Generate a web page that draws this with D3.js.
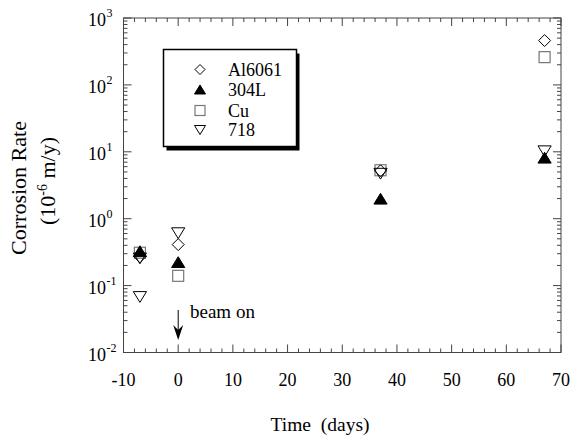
<!DOCTYPE html>
<html><head><meta charset="utf-8">
<script src="https://cdn.jsdelivr.net/npm/d3@7"></script>
<style>body{margin:0;background:#fff}</style>
</head><body><svg id="c" width="581" height="437" font-family="Liberation Serif, Times New Roman, DejaVu Serif, serif"></svg>
<script>
const daysAl = [-7, 0, 37, 67];
const al6061 = [0.27, 0.41, 5.2, 460];
const days304 = [-7, 0, 37, 67];
const s304L = [0.32, 0.22, 1.95, 8.0];
const daysCu = [-7, 0, 37, 67];
const cu = [0.31, 0.14, 5.3, 260];
const days718 = [-7, -7, 0, 37, 67];
const i718 = [0.26, 0.069, 0.62, 4.8, 10.4];
const xTicks = [-10, 0, 10, 20, 30, 40, 50, 60, 70];
const yTicks = [0.01, 0.1, 1, 10, 100, 1000];
const yExp = ["-2", "-1", "0", "1", "2", "3"];
const legendNames = ["Al6061", "304L", "Cu", "718"];

const FONT = "'Liberation Serif', 'Times New Roman', 'DejaVu Serif', serif";
const svg = d3.select("#c");
const L = 123.5, R = 561, T = 18, B = 352.5;
const x = d3.scaleLinear().domain([-10, 70]).range([L, R]);
const y = d3.scaleLog().domain([0.01, 1000]).range([B, T]);
const axCol = "#444";
function txt(sel) { return sel.append("text").attr("font-family", FONT).style("font-family", FONT).attr("fill", "#000"); }

svg.append("rect").attr("x", L).attr("y", T).attr("width", R - L).attr("height", B - T)
  .attr("fill", "none").attr("stroke", axCol).attr("stroke-width", 1);

d3.range(-10, 70.1, 2).forEach(v => {
  const len = (v % 10 === 0) ? 8 : 4;
  const px = x(v);
  svg.append("line").attr("x1", px).attr("x2", px).attr("y1", B).attr("y2", B - len).attr("stroke", axCol);
  svg.append("line").attr("x1", px).attr("x2", px).attr("y1", T).attr("y2", T + len).attr("stroke", axCol);
});
for (let e = -2; e < 3; e++) {
  for (let m = 2; m <= 9; m++) {
    const py = y(m * Math.pow(10, e));
    svg.append("line").attr("x1", L).attr("x2", L + 4).attr("y1", py).attr("y2", py).attr("stroke", axCol);
    svg.append("line").attr("x1", R).attr("x2", R - 4).attr("y1", py).attr("y2", py).attr("stroke", axCol);
  }
}
yTicks.forEach(v => {
  const py = y(v);
  svg.append("line").attr("x1", L).attr("x2", L + 8).attr("y1", py).attr("y2", py).attr("stroke", axCol);
  svg.append("line").attr("x1", R).attr("x2", R - 8).attr("y1", py).attr("y2", py).attr("stroke", axCol);
});

xTicks.forEach(v => {
  txt(svg).attr("x", x(v)).attr("y", B + 33).attr("text-anchor", "middle").attr("font-size", 18).text(v);
});
yTicks.forEach((v, i) => {
  txt(svg).attr("x", 106).attr("y", y(v) + 8).attr("text-anchor", "end").attr("font-size", 18).text("10");
  txt(svg).attr("x", 106.5).attr("y", y(v) - 1).attr("font-size", 12).text(yExp[i]);
});

txt(svg).attr("x", 320).attr("y", 431).attr("text-anchor", "middle").attr("font-size", 19.5)
  .attr("xml:space", "preserve").text("Time  (days)");
txt(svg).attr("transform", "translate(26,188) rotate(-90)").attr("text-anchor", "middle")
  .attr("font-size", 22).text("Corrosion Rate");
const yt2 = txt(svg).attr("transform", "translate(55,181) rotate(-90)").attr("text-anchor", "middle").attr("font-size", 22);
yt2.append("tspan").text("(10");
yt2.append("tspan").attr("font-size", 14).attr("dy", -8).text("-6");
yt2.append("tspan").attr("dy", 8).attr("xml:space", "preserve").text(" m/y)");

function diamond(g, cx, cy, r) {
  g.append("path").attr("d", `M${cx},${cy - r}L${cx + r},${cy}L${cx},${cy + r}L${cx - r},${cy}Z`)
    .attr("fill", "none").attr("stroke", "#000").attr("stroke-width", 1);
}
function triUp(g, cx, cy, r) {
  g.append("path").attr("d", `M${cx},${cy - r}L${cx + r * 1.1},${cy + r * 0.8}L${cx - r * 1.1},${cy + r * 0.8}Z`)
    .attr("fill", "#000").attr("stroke", "#000");
}
function square(g, cx, cy, r) {
  g.append("rect").attr("x", cx - r).attr("y", cy - r).attr("width", 2 * r).attr("height", 2 * r)
    .attr("fill", "none").attr("stroke", "#777").attr("stroke-width", 1.2);
}
function triDown(g, cx, cy, r) {
  g.append("path").attr("d", `M${cx},${cy + r}L${cx + r * 1.1},${cy - r * 0.8}L${cx - r * 1.1},${cy - r * 0.8}Z`)
    .attr("fill", "none").attr("stroke", "#000").attr("stroke-width", 1);
}
const g = svg.append("g");
daysCu.forEach((d, i) => square(g, x(d), y(cu[i]), 5.5));
daysAl.forEach((d, i) => diamond(g, x(d), y(al6061[i]), 6));
days718.forEach((d, i) => triDown(g, x(d), y(i718[i]), 6));
days304.forEach((d, i) => triUp(g, x(d), y(s304L[i]), 6));

const ax = x(0);
svg.append("line").attr("x1", ax).attr("x2", ax).attr("y1", 310).attr("y2", 334).attr("stroke", "#000").attr("stroke-width", 1);
svg.append("path").attr("d", `M${ax},340L${ax - 5},325L${ax},330L${ax + 5},325Z`).attr("fill", "#000");
txt(svg).attr("x", 190).attr("y", 318).attr("font-size", 19).text("beam on");

const lx = 163.5, ly = 49.5, lw = 133, lh = 97;
svg.append("rect").attr("x", lx + 3).attr("y", ly + 4).attr("width", lw).attr("height", lh).attr("fill", "#000");
svg.append("rect").attr("x", lx).attr("y", ly).attr("width", lw).attr("height", lh)
  .attr("fill", "#fff").attr("stroke", "#000").attr("stroke-width", 1.5);
const lg = svg.append("g");
const rows = [69.5, 90, 110.5, 129.5];
const fns = [diamond, triUp, square, triDown];
legendNames.forEach((n, i) => {
  fns[i](lg, 200, rows[i], 5);
  txt(lg).attr("x", 228).attr("y", rows[i] + 6).attr("font-size", 18).text(n);
});
</script></body></html>
